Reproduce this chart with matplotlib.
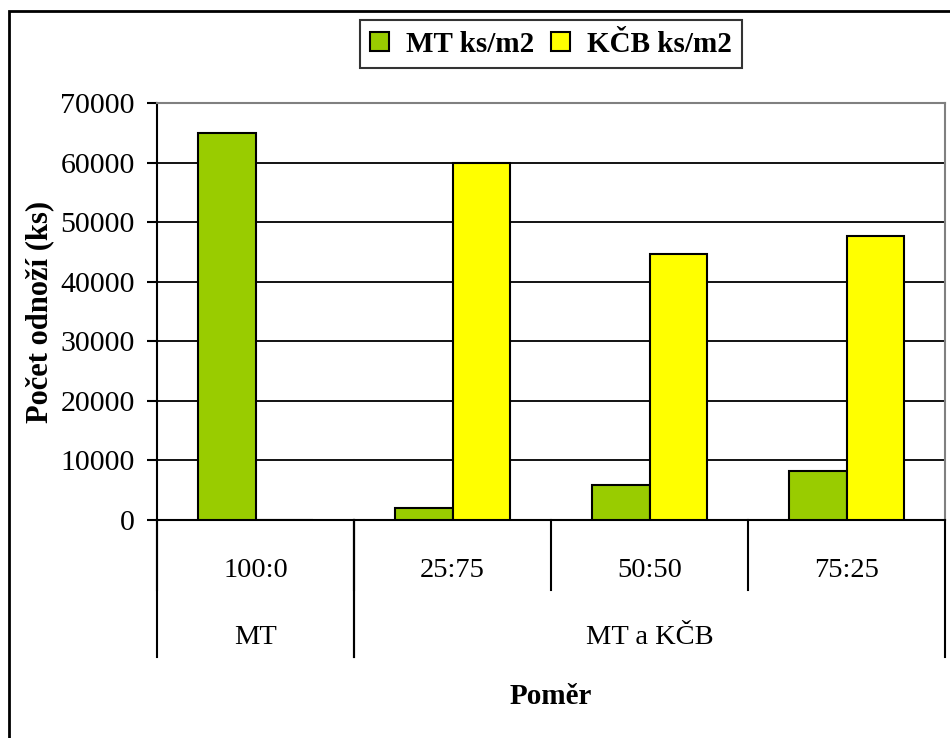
import matplotlib
matplotlib.use("Agg")
import matplotlib.pyplot as plt
from matplotlib.patches import Rectangle

plt.rcParams['font.family'] = ['Liberation Serif', 'DejaVu Serif']

# hodnoty z pokusu
kategorie = ["100:0", "25:75", "50:50", "75:25"]
skupiny = ["MT", "MT a KČB"]
skupiny_pocet = [1, 3]
mt_ks = [65000, 2000, 5900, 8300]
kcb_ks = [0, 60000, 44600, 47600]
y_ticks = [0, 10000, 20000, 30000, 40000, 50000, 60000, 70000]

W, H = 950, 738
fig = plt.figure(figsize=(W / 100, H / 100), dpi=100)
fig.patch.set_facecolor('white')

# rámeček kolem celého grafu
fig.patches.append(Rectangle((9 / W, -0.05), 1.1, 1 - 11 / H + 0.05,
                             transform=fig.transFigure, fill=False,
                             edgecolor='black', linewidth=2))

ax = fig.add_axes([157 / W, 1 - 520 / H, 788 / W, 417 / H])

x = list(range(len(kategorie)))
sirka = 0.29
ax.bar([i - sirka / 2 for i in x], mt_ks, sirka, color='#99CC00',
       edgecolor='black', linewidth=1.5, zorder=3, label='MT ks/m2')
ax.bar([i + sirka / 2 for i in x], kcb_ks, sirka, color='#FFFF00',
       edgecolor='black', linewidth=1.5, zorder=3, label='KČB ks/m2')

ax.set_xlim(-0.5, len(kategorie) - 0.5)
ax.set_ylim(0, 70000)
ax.set_yticks(y_ticks)
ax.set_yticklabels([str(v) for v in y_ticks], fontsize=21.5)
ax.tick_params(axis='y', direction='out', length=7, width=1.5, pad=9)
ax.grid(axis='y', color='black', linewidth=1.3, zorder=0)
ax.set_axisbelow(True)
ax.set_xticks([])

ax.spines['left'].set_linewidth(1.5)
ax.spines['bottom'].set_linewidth(1.5)
ax.spines['top'].set_color('#808080')
ax.spines['right'].set_color('#808080')
ax.spines['top'].set_linewidth(1.5)
ax.spines['right'].set_linewidth(1.5)

# dvouúrovňové popisky osy x
trans = ax.get_xaxis_transform()
for i, k in enumerate(kategorie):
    ax.text(i, -0.12, k, transform=trans, ha='center', va='center', fontsize=20.5)
    ax.plot([i - 0.5, i - 0.5], [0, -0.168], transform=trans, color='black',
            linewidth=1.5, clip_on=False)
start = 0
for s, n in zip(skupiny, skupiny_pocet):
    lo, hi = start - 0.5, start + n - 0.5
    ax.text((lo + hi) / 2, -0.281, s, transform=trans, ha='center',
            va='center', fontsize=20.5)
    for xb in (lo, hi):
        ax.plot([xb, xb], [0, -0.3285], transform=trans, color='black',
                linewidth=1.5, clip_on=False)
    start += n

ax.set_ylabel('Počet odnoží (ks)', fontsize=22, fontweight='bold', va='center')
ax.yaxis.set_label_coords(-0.149, 0.5)
fig.text(551 / W, 1 - 697 / H, 'Poměr', ha='center', va='center',
         fontsize=21, fontweight='bold')

leg = fig.legend(loc='center', bbox_to_anchor=(551 / W, 1 - 44 / H), ncol=2,
                 prop={'size': 21, 'weight': 'bold'}, frameon=True,
                 fancybox=False, handlelength=0.65, handleheight=0.65,
                 handletextpad=0.57, columnspacing=0.6, borderpad=0.35,
                 borderaxespad=0)
leg.get_frame().set_edgecolor('black')
leg.get_frame().set_linewidth(1.5)

fig.savefig('out.png', dpi=100, facecolor='white')
